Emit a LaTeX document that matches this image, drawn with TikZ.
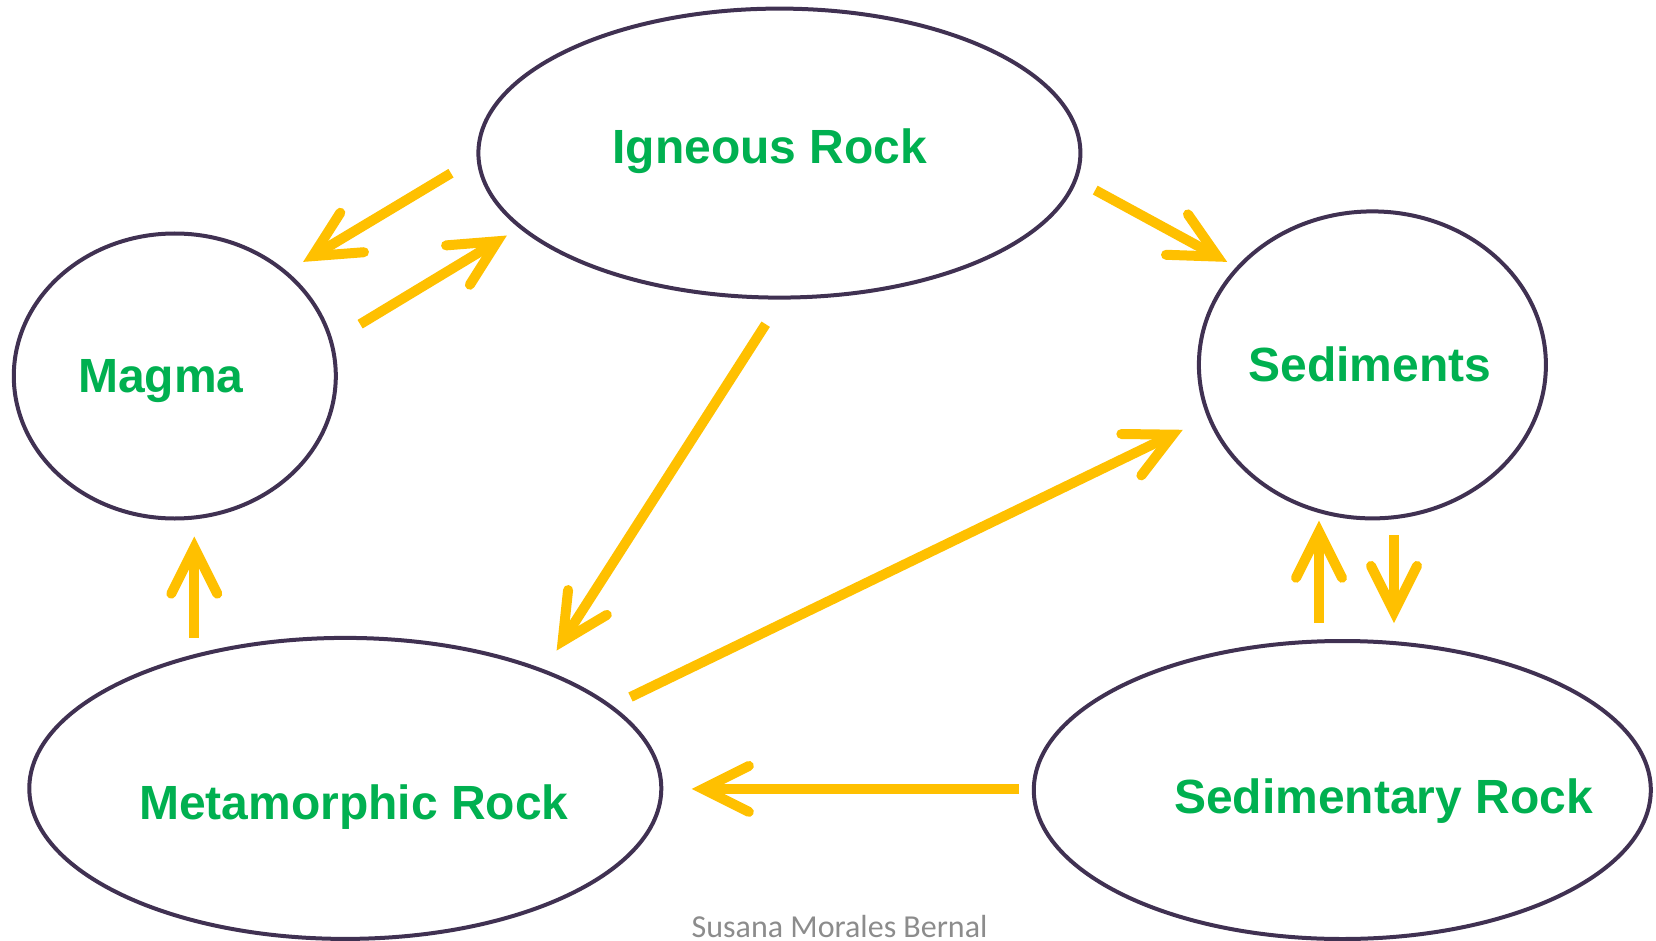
\documentclass[tikz,border=0pt]{standalone}
\usepackage{fontspec}
\setmainfont{Liberation Sans}
\newfontfamily\capfont{Carlito}
\usetikzlibrary{shapes.geometric,arrows.meta}
\definecolor{rockgreen}{HTML}{00B050}
\definecolor{rimcol}{HTML}{403152}
\definecolor{arrcol}{HTML}{FFC000}
\begin{document}
\begin{tikzpicture}[x=1pt,y=-1pt,
  rock/.style={ellipse,draw=rimcol,line width=4pt,inner sep=0pt},
  rocklabel/.style={anchor=base,text=rockgreen,font=\fontsize{48}{56}\selectfont\bfseries},
  flow/.style={draw=arrcol,line width=10pt,line cap=butt,
    -{Straight Barb[length=46pt,width=46pt,line cap=round,line join=miter]}}]
\useasboundingbox (0,0) rectangle (1656,941);
% ellipses
\node[rock,minimum width=602pt,minimum height=289pt] (ign) at (779.4,153.1) {};
\node[rock,minimum width=322pt,minimum height=285pt] (mag) at (174.8,376) {};
\node[rock,minimum width=347pt,minimum height=307pt] (sed) at (1372.4,364.9) {};
\node[rock,minimum width=632pt,minimum height=301pt] (met) at (345.3,788.4) {};
\node[rock,minimum width=617pt,minimum height=298pt] (sdr) at (1342.3,790) {};
% labels
\node[rocklabel] (ignT) at (769.9,163.7) {Igneous Rock};
\node[rocklabel] (magT) at (161,392.9) {Magma};
\node[rocklabel] (sedT) at (1369.8,381) {Sediments};
\node[rocklabel] (metT) at (353.8,819.5) {Metamorphic Rock};
\node[rocklabel] (sdrT) at (1383.5,813.2) {Sedimentary Rock};
\node[anchor=base,text=black!45,font=\capfont\fontsize{32}{36}\selectfont] (cap) at (839.6,937) {Susana Morales Bernal};
% arrow end points
\coordinate (a1s) at (451,173.2);   \coordinate (a1e) at (303.1,261.9);
\coordinate (a2s) at (360.1,324.2); \coordinate (a2e) at (506.9,235.5);
\coordinate (a3s) at (1095.2,190.1);\coordinate (a3e) at (1227.2,261.9);
\coordinate (a4s) at (765.7,324.2); \coordinate (a4e) at (556.6,650.6);
\coordinate (a5s) at (630.5,697);   \coordinate (a5e) at (1182.8,429.8);
\coordinate (a6s) at (1019.1,788.9);\coordinate (a6e) at (691.7,788.9);
\coordinate (a7s) at (194.3,637.9); \coordinate (a7e) at (194.3,536.5);
\coordinate (a8s) at (1319,623.1);  \coordinate (a8e) at (1319,520.6);
\coordinate (a9s) at (1394,535.4);  \coordinate (a9e) at (1394,623.1);
% arrows
\draw[flow] (a1s) -- (a1e);
\draw[flow] (a2s) -- (a2e);
\draw[flow] (a3s) -- (a3e);
\draw[flow] (a4s) -- (a4e);
\draw[flow] (a5s) -- (a5e);
\draw[flow] (a6s) -- (a6e);
\draw[flow] (a7s) -- (a7e);
\draw[flow] (a8s) -- (a8e);
\draw[flow] (a9s) -- (a9e);
\end{tikzpicture}
\end{document}
